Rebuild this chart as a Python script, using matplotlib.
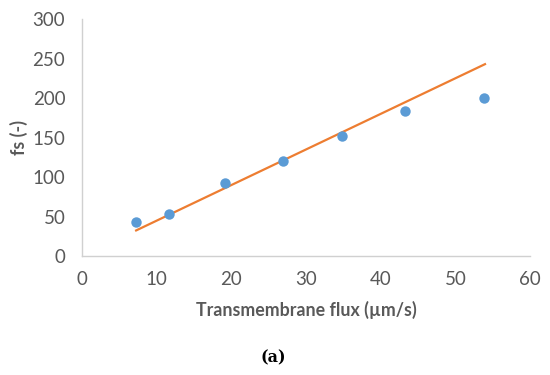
import matplotlib
matplotlib.use("Agg")
import matplotlib.pyplot as plt

flux = [7.3, 11.6, 19.2, 26.9, 34.8, 43.2, 53.8]
fs = [42.7, 53.2, 92, 120, 152, 184, 200]
trend_x = [7.25, 53.95]
trend_y = [32.5, 243]
xticks = [0, 10, 20, 30, 40, 50, 60]
yticks = [0, 50, 100, 150, 200, 250, 300]

fig = plt.figure(figsize=(5.5, 3.75), dpi=100)
ax = fig.add_axes([0.149, 0.317, 0.815, 0.632])
ax.plot(trend_x, trend_y, color="#ed7d31", lw=1.6, zorder=2)
ax.plot(flux, fs, "o", color="#5b9bd5", markersize=7.5, markeredgewidth=0, zorder=3)

ax.set_xlim(0, 60)
ax.set_ylim(0, 300)
ax.set_xticks(xticks)
ax.set_yticks(yticks)
for s in ["top", "right"]:
    ax.spines[s].set_visible(False)
for s in ["left", "bottom"]:
    ax.spines[s].set_color("#d0d0d0")
    ax.spines[s].set_linewidth(1.0)
ax.tick_params(length=0, labelsize=13.5, labelcolor="#595959")
ax.tick_params(axis="y", pad=12)
ax.tick_params(axis="x", pad=11)
for lab in ax.get_xticklabels() + ax.get_yticklabels():
    lab.set_family("Lato")
ax.set_xlabel("Transmembrane flux (µm/s)", fontsize=12.8, fontweight="bold",
              color="#595959", family="Lato", labelpad=9)
ax.set_ylabel("fs (-)", fontsize=12.8, fontweight="bold", color="#595959",
              family="Lato", labelpad=3)
fig.text(0.496, 0.045, "(a)", ha="center", va="center", fontsize=11.5,
         fontweight="bold", family="DejaVu Serif", color="#000000")
fig.savefig("out.png", dpi=100)
